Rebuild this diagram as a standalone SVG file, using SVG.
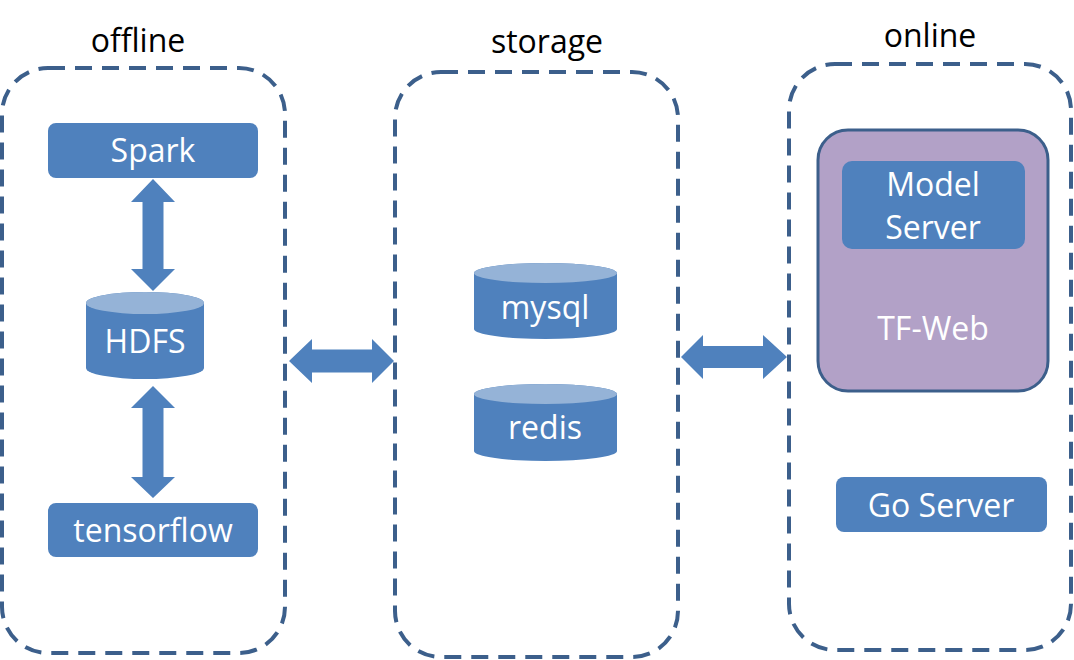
<svg xmlns="http://www.w3.org/2000/svg" width="1074" height="660" viewBox="0 0 1074 660">
<style>
.cont{fill:none;stroke:#3C5F8B;stroke-width:4;stroke-dasharray:17 10}
.box{fill:#4F81BD}
.top{fill:#95B3D7}
.arrow{fill:#4F81BD}
.t{font-family:"Open Sans","Liberation Sans",sans-serif;font-size:32px;fill:#fff;text-anchor:middle}
.h{font-family:"Open Sans","Liberation Sans",sans-serif;font-size:32px;fill:#000;text-anchor:middle}
</style>
<rect width="1074" height="660" fill="#fff"/>
<g id="offline">
<rect class="cont" x="2" y="68" width="283" height="585" rx="46"/>
<text class="h" x="138" y="52">offline</text>
</g>
<g id="storage">
<rect class="cont" x="395" y="72" width="283" height="585" rx="46"/>
<text class="h" x="547" y="53">storage</text>
</g>
<g id="online">
<rect class="cont" x="789" y="64" width="282" height="586" rx="46"/>
<text class="h" x="930" y="47">online</text>
</g>
<g id="spark">
<rect class="box" x="48" y="123" width="210" height="55" rx="8"/>
<text class="t" x="153" y="162">Spark</text>
</g>
<g id="hdfs">
<path class="box" d="M86,303 A59,11 0 0,1 204,303 V368 A59,11 0 0,1 86,368 Z"/>
<ellipse class="top" cx="145" cy="303" rx="59" ry="11"/>
<text class="t" x="145" y="353">HDFS</text>
</g>
<g id="tensorflow">
<rect class="box" x="48" y="503" width="210" height="54" rx="8"/>
<text class="t" x="153" y="542">tensorflow</text>
</g>
<g id="mysql">
<path class="box" d="M474,273 A71.5,10 0 0,1 617,273 V329 A71.5,10 0 0,1 474,329 Z"/>
<ellipse class="top" cx="545.5" cy="273" rx="71.5" ry="10"/>
<text class="t" x="545" y="319">mysql</text>
</g>
<g id="redis">
<path class="box" d="M474,394 A71.5,10 0 0,1 617,394 V451 A71.5,10 0 0,1 474,451 Z"/>
<ellipse class="top" cx="545.5" cy="394" rx="71.5" ry="10"/>
<text class="t" x="545" y="439">redis</text>
</g>
<g id="tfweb">
<rect x="818" y="130" width="230" height="261" rx="30" fill="#B2A1C7" stroke="#3C5F8B" stroke-width="3"/>
<text class="t" x="933" y="340" fill="#F7F3FA">TF-Web</text>
</g>
<g id="modelserver">
<rect class="box" x="842" y="161" width="183" height="88" rx="10"/>
<text class="t" x="933" y="196">Model</text>
<text class="t" x="933" y="239">Server</text>
</g>
<g id="goserver">
<rect class="box" x="836" y="477" width="211" height="55" rx="8"/>
<text class="t" x="941" y="517">Go Server</text>
</g>
<g id="connectors">
<polygon class="arrow" points="153,179 175,202 163.5,202 163.5,269 175,269 153,291 131,269 142.5,269 142.5,202 131,202"/>
<polygon class="arrow" points="153,386 175,408 163.5,408 163.5,477 175,477 153,498 131,477 142.5,477 142.5,408 131,408"/>
<polygon class="arrow" points="289,361 312,339 312,349.5 372,349.5 372,339 394,361 372,383 372,372.5 312,372.5 312,383"/>
<polygon class="arrow" points="681,357 703,335 703,346 763,346 763,335 787,357 763,379 763,368 703,368 703,379"/>
</g>
</svg>
